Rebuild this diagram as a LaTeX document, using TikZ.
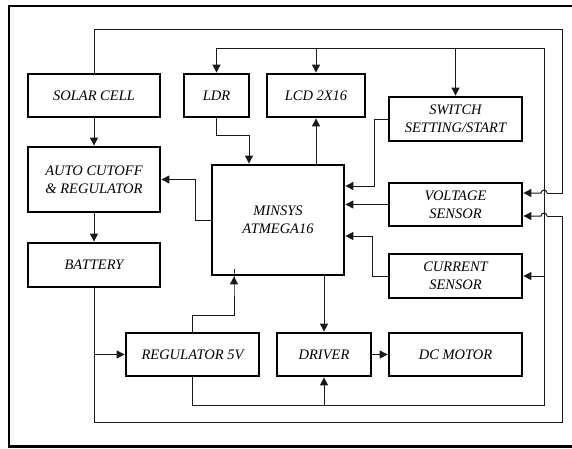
\documentclass[tikz,border=0pt]{standalone}
\usepackage{fontspec}
\setmainfont{Liberation Serif}
\usetikzlibrary{arrows.meta,calc}
\tikzset{
  blk/.style={draw, line width=2.8pt, align=center, inner sep=0pt,
    font=\itshape\fontsize{14.5}{18}\selectfont},
  wire/.style={line width=1pt, black!90},
  arr/.style={wire, -{Triangle[length=8pt,width=8pt]}},
}
\begin{document}
\begin{tikzpicture}[x=1pt,y=-1pt]
\useasboundingbox (0,0) rectangle (572,448);
\draw[line width=2.6pt] (572,6) -- (9,6) -- (9,446.7) -- (572,446.7);
% blocks
\node[blk, minimum width=132pt, minimum height=43pt] (solar) at (94,95.5) {SOLAR CELL};
\node[blk, minimum width=65pt, minimum height=43pt] (ldr) at (216.5,95.5) {LDR};
\node[blk, minimum width=98pt, minimum height=43pt] (lcd) at (316,95.5) {LCD 2X16};
\node[blk, minimum width=133pt, minimum height=44pt] (sw) at (455.5,119) {SWITCH\\SETTING/START};
\node[blk, minimum width=132pt, minimum height=65pt] (auto) at (94,179.5) {AUTO CUTOFF\\\& REGULATOR};
\node[blk, minimum width=132pt, minimum height=110pt] (mcu) at (278,220) {MINSYS\\ATMEGA16};
\node[blk, minimum width=133pt, minimum height=43pt] (vs) at (455.5,204.5) {VOLTAGE\\SENSOR};
\node[blk, minimum width=133pt, minimum height=44pt] (cs) at (455.5,276) {CURRENT\\SENSOR};
\node[blk, minimum width=132pt, minimum height=44pt] (bat) at (94,265) {BATTERY};
\node[blk, minimum width=133pt, minimum height=43pt] (reg) at (192.5,354.5) {REGULATOR 5V};
\node[blk, minimum width=94pt, minimum height=43pt] (drv) at (324,354.5) {DRIVER};
\node[blk, minimum width=133pt, minimum height=43pt] (dcm) at (455.5,354.5) {DC MOTOR};
% helper coordinates
\coordinate (vsA) at ($(vs.east)+(0,-11.5)$);
\coordinate (vsB) at ($(vs.east)+(0,11.5)$);
\coordinate (hopA) at (547,193);
\coordinate (hopB) at (547,216);
% outer loop: solar cell -> voltage sensor
\draw[wire] (solar.north) -- (solar.north |- 0,29) -- (562,29) -- (562,193) -- (hopA);
\draw[arr] (hopA) arc[start angle=0,end angle=-180,radius=3] -- (vsA);
% battery loop -> voltage sensor
\draw[wire] (bat.south) -- (bat.south |- 0,422) -- (562,422) -- (562,216) -- (hopB);
\draw[arr] (hopB) arc[start angle=0,end angle=-180,radius=3] -- (vsB);
\draw[arr] (bat.south |- reg.west) -- (reg.west);
% 5V distribution
\draw[arr] (reg.south) -- (reg.south |- 0,405) -- (544,405) -- (544,48) -- (ldr.north |- 0,48) -- (ldr.north);
\draw[arr] (lcd.north |- 0,48) -- (lcd.north);
\draw[arr] (sw.north |- 0,48) -- (sw.north);
\draw[arr] (544,0 |- cs.east) -- (cs.east);
\draw[arr] (drv.south |- 0,405) -- (drv.south);
\draw[arr] (reg.north) -- (192.5,315) -- (234,315) -- (234,0 |- mcu.south) -- (mcu.south -| 234,0);
% main chain
\draw[arr] (solar.south) -- (auto.north);
\draw[arr] (auto.south) -- (bat.north);
\draw[arr] (mcu.west) -- (195,220) -- (195,0 |- auto.east) -- (auto.east);
\draw[arr] (ldr.south) -- (216.5,135) -- (249,135) -- (mcu.north -| 249,0);
\draw[arr] (mcu.north -| lcd.south) -- (lcd.south);
\draw[arr] (sw.west) -- (374,0 |- sw.west) -- (374,186) -- (mcu.east |- 0,186);
\draw[arr] (vs.west) -- (mcu.east |- vs.west);
\draw[arr] (cs.west) -- (372,0 |- cs.west) -- (372,236) -- (mcu.east |- 0,236);
\draw[arr] (mcu.south -| drv.north) -- (drv.north);
\draw[arr] (drv.east) -- (dcm.west);
\end{tikzpicture}
\end{document}
